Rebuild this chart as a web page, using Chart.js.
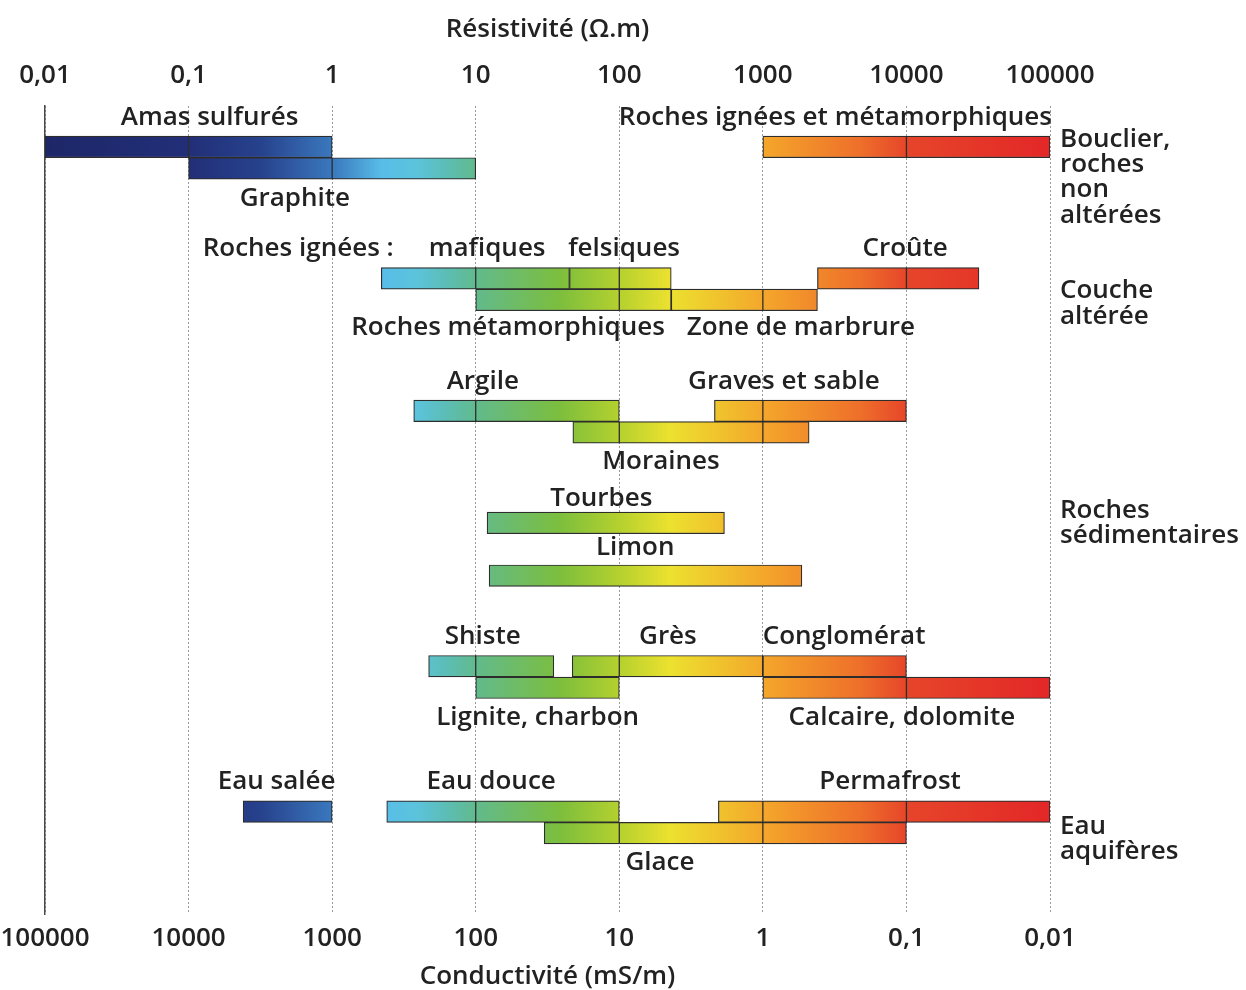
<!DOCTYPE html>
<html lang="fr">
<head>
<meta charset="utf-8">
<title>Résistivité et conductivité des roches</title>
<script src="https://cdn.jsdelivr.net/npm/chart.js@4.4.1/dist/chart.umd.min.js"></script>
<style>
  html, body { margin: 0; padding: 0; background: #fff; }
  #wrap { width: 1246px; height: 990px; }
</style>
</head>
<body>
<div id="wrap"><canvas id="chart"></canvas></div>
<script>
// Resistivity ranges (ohm.m), one entry per bar
var materials = ['Amas sulfurés', 'Graphite', 'Roches ignées et métamorphiques',
  'mafiques', 'felsiques', 'Croûte', 'Roches métamorphiques', 'Zone de marbrure',
  'Argile', 'Graves et sable', 'Moraines', 'Tourbes', 'Limon',
  'Shiste', 'Grès', 'Conglomérat', 'Lignite, charbon', 'Calcaire, dolomite',
  'Eau salée', 'Eau douce', 'Permafrost', 'Glace'];
var rhoMin = [0.01, 0.1, 1000, 2.2, 45, 2400, 10, 230, 3.7, 460, 47.5, 12, 12.4,
  4.7, 47, 1000, 10, 1000, 0.24, 2.4, 490, 30];
var rhoMax = [1, 10, 100000, 45, 230, 32000, 230, 2400, 100, 10000, 2100, 540, 1870,
  35, 1000, 10000, 100, 100000, 1, 100, 100000, 10000];
// lane of each bar on the vertical axis
var row = [1.9, 2.9, 1.9, 8, 8, 8, 9, 9, 14.15, 14.15, 15.15, 19.35, 21.8,
  26, 26, 26, 27, 27, 32.75, 32.75, 32.75, 33.75];

// where the bar names sit: above or below the bar, and resistivity under their centre
var labelSide = ['up', 'down', 'up', 'up', 'up', 'up', 'down', 'down', 'up', 'up', 'down',
  'up', 'up', 'up', 'up', 'up', 'down', 'down', 'up', 'up', 'up', 'down'];
var labelAt = [0.14, 0.55, 3200, 12, 108, 9800, 16.8, 1840, 11.2, 1400, 195, 75, 129,
  11.2, 218, 3680, 27, 9300, 0.41, 12.8, 7700, 192];
var labelGap = [19, 19, 19, 19, 19, 19, 17, 17, 19, 19, 18, 14, 17,
  19, 19, 19, 19, 19, 19, 19, 19, 19];

var decades = [0.01, 0.1, 1, 10, 100, 1000, 10000, 100000];

var groups = [['Bouclier,', 'roches', 'non', 'altérées'], ['Couche', 'altérée'],
  ['Roches', 'sédimentaires'], ['Eau', 'aquifères']];
var groupRow = [1.55, 8.58, 18.78, 33.44];

var textColor = '#222222';
var fontFamily = "'Open Sans', sans-serif";
var font = { family: fontFamily, size: 26, weight: '600', lineHeight: 1 };

// colour ramp along the resistivity axis (0 = left edge, 1 = right edge)
var ramp = [
  [0, '#1d2768'], [0.144, '#222f78'], [0.214, '#27418c'], [0.287, '#3a79be'],
  [0.335, '#58bde8'], [0.37, '#5cc3dc'], [0.40, '#5cbdb4'], [0.431, '#62ba8a'],
  [0.512, '#7cbe3d'], [0.572, '#b5d12e'], [0.622, '#ece12f'], [0.716, '#f4a62b'],
  [0.811, '#ee6f2a'], [0.858, '#e6452a'], [1, '#e32727']
];

var gradCache = null, gradKey = '';
function barGradient(context) {
  var chart = context.chart;
  var area = chart.chartArea;
  if (!area) return '#888';
  var key = area.left + ':' + area.right;
  if (!gradCache || gradKey !== key) {
    gradCache = chart.ctx.createLinearGradient(area.left, 0, area.right, 0);
    ramp.forEach(function (s) { gradCache.addColorStop(s[0], s[1]); });
    gradKey = key;
  }
  return gradCache;
}

function decadeTicks(scale) {
  scale.ticks = decades.map(function (v) { return { value: v }; });
}
function frenchNumber(v) {
  return String(v).replace('.', ',');
}

// a bar gets decade separators when it belongs to a pair of stacked rows
function hasPartner(i) {
  return row.some(function (r, j) { return j !== i && Math.abs(r - row[i]) > 0.5 && Math.abs(r - row[i]) < 1.5; });
}

// black separators where a decade line crosses a bar
var decadeDividers = {
  id: 'decadeDividers',
  afterDatasetsDraw: function (chart) {
    var ctx = chart.ctx, xs = chart.scales.x;
    var bars = chart.getDatasetMeta(0).data;
    ctx.save();
    ctx.strokeStyle = '#2d2d2d';
    ctx.lineWidth = 1.3;
    bars.forEach(function (bar, i) {
      if (!hasPartner(i)) return;
      var p = bar.getProps(['x', 'y', 'base', 'height'], true);
      var left = Math.min(p.x, p.base), right = Math.max(p.x, p.base);
      decades.forEach(function (v) {
        var px = xs.getPixelForValue(v);
        if (px > left + 2 && px < right - 2) {
          ctx.beginPath();
          ctx.moveTo(px, p.y - p.height / 2);
          ctx.lineTo(px, p.y + p.height / 2);
          ctx.stroke();
        }
      });
    });
    ctx.restore();
  }
};

// bar names and the rock groups on the right
var barNames = {
  id: 'barNames',
  afterDatasetsDraw: function (chart) {
    var ctx = chart.ctx, xs = chart.scales.x, ys = chart.scales.y;
    var bars = chart.getDatasetMeta(0).data;
    ctx.save();
    ctx.fillStyle = textColor;
    ctx.font = font.weight + ' ' + font.size + 'px ' + fontFamily;
    ctx.textAlign = 'center';
    ctx.textBaseline = 'middle';
    bars.forEach(function (bar, i) {
      var p = bar.getProps(['y', 'height'], true);
      var ty = labelSide[i] === 'up' ? p.y - p.height / 2 - labelGap[i]
                                     : p.y + p.height / 2 + labelGap[i];
      ctx.fillText(materials[i], xs.getPixelForValue(labelAt[i]), ty);
      if (materials[i] === 'mafiques') {
        ctx.fillText('Roches ignées :', xs.getPixelForValue(0.58), ty);
      }
    });
    ctx.textAlign = 'left';
    groups.forEach(function (lines, g) {
      var y0 = ys.getPixelForValue(groupRow[g]);
      lines.forEach(function (t, k) {
        ctx.fillText(t, chart.chartArea.right + 10, y0 + k * 25.3);
      });
    });
    ctx.restore();
  }
};

new Chart(document.getElementById('chart'), {
  type: 'bar',
  data: {
    datasets: [{
      data: materials.map(function (m, i) {
        return { x: [rhoMin[i], rhoMax[i]], y: row[i] };
      }),
      xAxisID: 'x',
      yAxisID: 'y',
      backgroundColor: barGradient,
      borderColor: '#2d2d2d',
      borderWidth: 1.2,
      borderSkipped: false,
      barThickness: 21.5
    }]
  },
  options: {
    indexAxis: 'y',
    responsive: true,
    maintainAspectRatio: false,
    animation: false,
    layout: { padding: { left: 45, right: 196, top: 0, bottom: 0 } },
    plugins: {
      legend: { display: false },
      tooltip: { enabled: false }
    },
    scales: {
      x: {
        type: 'logarithmic',
        position: 'top',
        min: 0.01,
        max: 100000,
        afterBuildTicks: decadeTicks,
        ticks: { font: font, color: textColor, padding: 17, autoSkip: false,
          maxRotation: 0, callback: frenchNumber },
        grid: { color: '#9a9a9a', lineWidth: 1, drawTicks: false },
        border: { display: false, dash: [2, 2] },
        title: { display: true, text: 'Résistivité (Ω.m)', font: font, color: textColor,
          padding: { top: 17, bottom: 3 } }
      },
      x2: {
        type: 'logarithmic',
        position: 'bottom',
        reverse: true,
        min: 0.01,
        max: 100000,
        afterBuildTicks: decadeTicks,
        ticks: { font: font, color: textColor, padding: 12, autoSkip: false,
          maxRotation: 0, callback: frenchNumber },
        grid: { display: false, drawTicks: false },
        border: { display: false },
        title: { display: true, text: 'Conductivité (mS/m)', font: font, color: textColor,
          padding: { top: 0, bottom: 0 } }
      },
      y: {
        type: 'linear',
        reverse: true,
        offset: false,
        min: 0,
        max: 37.5,
        ticks: { display: false },
        grid: { display: false, drawTicks: false, offset: false },
        border: { display: true, color: '#4a4a4a', width: 1.5 }
      }
    }
  },
  plugins: [decadeDividers, barNames]
});
</script>
</body>
</html>
